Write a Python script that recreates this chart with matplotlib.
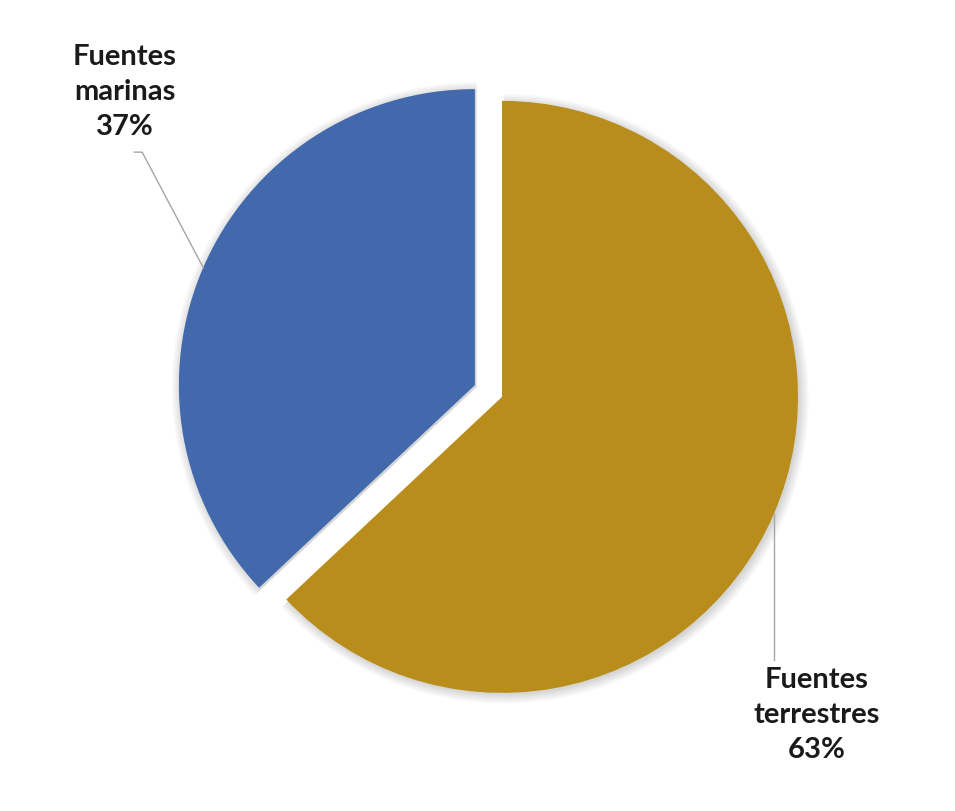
import numpy as np
import matplotlib.pyplot as plt
from matplotlib.patches import Wedge

# ====== DATA ======
labels = ["Fuentes\nterrestres", "Fuentes\nmarinas"]
values = [63, 37]
colors = ["#B88D1C", "#4169AC"]

explode = 0.05
plt.rcParams['font.family'] = ['Lato', 'DejaVu Sans']

fig = plt.figure(figsize=(9.55, 8.11), dpi=100)
ax = fig.add_axes([0, 0, 1, 1])
ax.set_xlim(-1.650, 1.576)
ax.set_ylim(-1.419, 1.321)
ax.set_aspect('equal')
ax.axis('off')

total = float(sum(values))
start = 90.0
slices = []
for lab, val, col in zip(labels, values, colors):
    span = 360.0 * val / total
    t1, t2 = start - span, start
    mid = np.radians((t1 + t2) / 2)
    cx, cy = explode * np.cos(mid), explode * np.sin(mid)
    # soft shadow
    for k in range(7):
        sh = Wedge((cx + 0.006, cy - 0.006), 1.0 + 0.005 * k, t1, t2,
                   facecolor='black', edgecolor='none', alpha=0.025, zorder=1)
        ax.add_patch(sh)
    ax.add_patch(Wedge((cx, cy), 1.0, t1, t2, facecolor=col,
                       edgecolor='none', zorder=2))
    slices.append((lab, val, cx, cy, mid))
    start = t1

# labels with leader lines
# terrestres: vertical leader below right
lab, val, cx, cy, mid = slices[0]
p0 = (cx + np.cos(mid), cy + np.sin(mid))
ax.plot([p0[0], p0[0]], [p0[1], -0.910], color='#a6a6a6', lw=1.0, zorder=3)
ax.text(1.110, -1.095, f"{lab}\n{val}%", ha='center', va='center',
        fontsize=21, fontweight='bold', linespacing=1.42, color='#1a1a1a')

# marinas: elbow leader to the upper left
lab, val, cx, cy, mid = slices[1]
p0 = (cx + np.cos(mid), cy + np.sin(mid))
ax.plot([p0[0], -1.170, -1.196], [p0[1], 0.807, 0.807],
        color='#a6a6a6', lw=1.0, zorder=3)
ax.text(-1.228, 1.010, f"{lab}\n{val}%", ha='center', va='center',
        fontsize=21, fontweight='bold', linespacing=1.42, color='#1a1a1a')

fig.savefig("out.png", dpi=100, facecolor='white')
